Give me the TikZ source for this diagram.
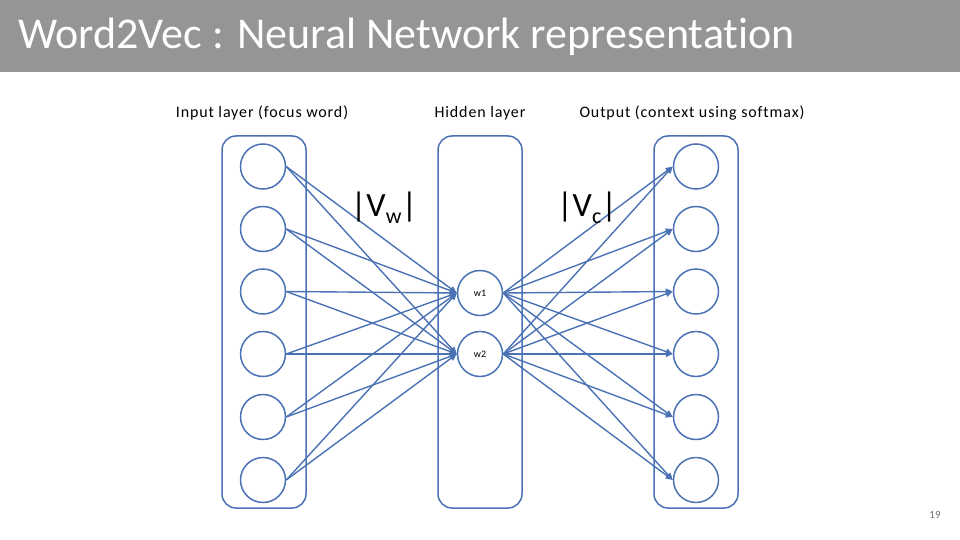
\documentclass[tikz,border=0pt]{standalone}
\usepackage{fontspec}
\setmainfont{Carlito}[Ligatures=NoCommon]
\newfontfamily\lblfont{Carlito}[Ligatures=NoCommon,LetterSpace=5.5]
\usetikzlibrary{arrows.meta}
\definecolor{nblue}{RGB}{74,114,180}
\definecolor{titlegray}{RGB}{149,149,149}
\definecolor{numgray}{RGB}{110,110,110}
\begin{document}
\begin{tikzpicture}[x=1pt,y=-1pt,
  layerbox/.style={draw=nblue,line width=1.5pt,rounded corners=14pt,minimum width=84pt,minimum height=372pt,inner sep=0pt},
  neuron/.style={circle,draw=nblue,line width=1.5pt,minimum size=45pt,inner sep=0pt,font=\fontsize{10}{12}\selectfont},
  conn/.style={draw=nblue,line width=1.4pt,-{Triangle[length=7pt,width=6pt]}},
  lbl/.style={anchor=base,font=\lblfont\fontsize{16}{18}\selectfont},
  biglbl/.style={anchor=base,font=\fontsize{34}{36}\selectfont}]
\useasboundingbox (0,0) rectangle (960,540);
\fill[titlegray] (0,0) rectangle (960,72);
\node[anchor=base west,text=white,inner sep=0pt,font=\fontsize{44}{50}\selectfont] (title) at (18,49) {Word2Vec : Neural Network representation};
\node[lbl] (linput) at (262,118) {Input layer (focus word)};
\node[lbl] (lhidden) at (480,118) {Hidden layer};
\node[lbl] (loutput) at (692,118) {Output (context using softmax)};
\node[layerbox] (inbox) at (264,322) {};
\node[layerbox] (hidbox) at (480,322) {};
\node[layerbox] (outbox) at (696,322) {};
\foreach \i/\y in {1/166.5,2/229,3/291.5,4/354,5/417,6/480}{
  \node[neuron] (in\i) at (263,\y) {};
  \node[neuron] (out\i) at (696,\y) {};
}
\node[neuron] (w1) at (480,293) {w1};
\node[neuron] (w2) at (480,354) {w2};
\foreach \i in {1,...,6}{
  \foreach \h in {w1,w2}{
    \draw[conn] (in\i.east) -- (\h.west);
    \draw[conn] (\h.east) -- (out\i.west);
  }
}
\node[biglbl] (vw) at (384,216) {|V\raisebox{-0.22em}{\fontsize{22}{22}\selectfont w}|};
\node[biglbl] (vc) at (587,216) {|V\raisebox{-0.22em}{\fontsize{22}{22}\selectfont c}|};
\node[anchor=base,text=numgray,font=\fontsize{11}{12}\selectfont] (pnum) at (935,518) {19};
\end{tikzpicture}
\end{document}
